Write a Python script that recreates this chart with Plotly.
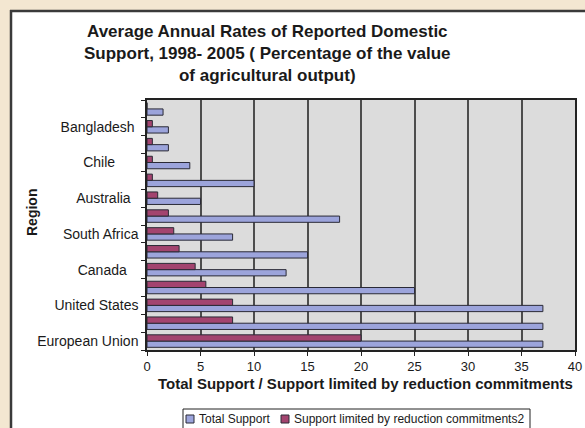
import plotly.graph_objects as go

# Categories from bottom to top (every other category label is hidden in the original)
regions = ["European Union", "cat13", "United States", "cat11", "Canada", "cat9",
           "South Africa", "cat7", "Australia", "cat5", "Chile", "cat3",
           "Bangladesh", "cat1"]
NB = "\u00a0"
tick_labels = ["European Union", "", "United States", "", "Canada" + NB * 3, "",
               "South Africa", "", "Australia" + NB * 2, "", "Chile" + NB * 6, "",
               "Bangladesh" + NB, ""]
total_support = [37, 37, 37, 25, 13, 15, 8, 18, 5, 10, 4, 2, 2, 1.5]
limited_support = [20, 8, 8, 5.5, 4.5, 3, 2.5, 2, 1, 0.5, 0.5, 0.5, 0.5, 0]
x_ticks = [0, 5, 10, 15, 20, 25, 30, 35, 40]
series_names = ["Total Support", "Support limited by reduction commitments2"]
series_colors = ["#9ca4db", "#a3446f"]

W, H = 585, 428
L, R, T, B = 147, 10, 100, 78
PW, PH = W - L - R, H - T - B


def px(x):
    return (x - L) / PW


def py(y):
    return (H - B - y) / PH


FONT = "Liberation Sans, Arial, sans-serif"
TXT = "#1a1a1a"
OUTLINE = "#2a2a36"

fig = go.Figure()
for name, vals, col in zip(series_names, [total_support, limited_support], series_colors):
    fig.add_trace(go.Bar(
        y=regions, x=vals, orientation="h", name=name,
        marker=dict(color=col, line=dict(color=OUTLINE, width=1)),
    ))

beige = "#f3e7d1"
border = "#3a3a3a"
shapes = [
    dict(type="rect", xref="paper", yref="paper", x0=px(-5), x1=px(10), y0=py(440), y1=py(-5),
         fillcolor=beige, line=dict(width=0), layer="below"),
    dict(type="rect", xref="paper", yref="paper", x0=px(-5), x1=px(600), y0=py(11), y1=py(-5),
         fillcolor=beige, line=dict(width=0), layer="below"),
    dict(type="line", xref="paper", yref="paper", x0=px(11), x1=px(11), y0=py(10), y1=py(440),
         line=dict(color=border, width=2.5)),
    dict(type="line", xref="paper", yref="paper", x0=px(10), x1=px(600), y0=py(11), y1=py(11),
         line=dict(color=border, width=2.5)),
    # legend box
    dict(type="rect", xref="paper", yref="paper", x0=px(183), x1=px(530), y0=py(409), y1=py(432),
         fillcolor="white", line=dict(color="#222", width=1)),
]

annotations = [
    dict(text="<b>Average Annual Rates of Reported Domestic</b><br>"
              "<b>Support, 1998- 2005 ( Percentage of the value</b><br>"
              "<b>of agricultural output)</b>",
         xref="paper", yref="paper", x=px(267), y=py(53), xanchor="center", yanchor="middle",
         showarrow=False, font=dict(family=FONT, size=17, color=TXT), align="center"),
    dict(text="<b>Total Support / Support limited by reduction commitments</b>",
         xref="paper", yref="paper", x=px(365), y=py(383), xanchor="center", yanchor="middle",
         showarrow=False, font=dict(family=FONT, size=15, color=TXT)),
    dict(text="<b>Region</b>", textangle=-90,
         xref="paper", yref="paper", x=px(32), y=py(213), xanchor="center", yanchor="middle",
         showarrow=False, font=dict(family=FONT, size=14, color=TXT)),
]

# manual compact legend (Excel style)
legend_x = [186, 281]
for lx, name, col in zip(legend_x, series_names, series_colors):
    shapes.append(dict(type="rect", xref="paper", yref="paper",
                       x0=px(lx), x1=px(lx + 8), y0=py(423), y1=py(415),
                       fillcolor=col, line=dict(color=OUTLINE, width=1)))
    annotations.append(dict(text=name, xref="paper", yref="paper",
                            x=px(lx + 11), y=py(419), xanchor="left", yanchor="middle",
                            showarrow=False, font=dict(family=FONT, size=12, color=TXT)))

fig.update_layout(
    width=W, height=H,
    margin=dict(l=L, r=R, t=T, b=B, pad=0),
    paper_bgcolor="white",
    plot_bgcolor="#dcdcdc",
    barmode="group",
    bargap=0.3,
    bargroupgap=0,
    font=dict(family=FONT, color=TXT),
    showlegend=False,
    shapes=shapes,
    annotations=annotations,
    xaxis=dict(
        range=[0, 40], tickmode="array", tickvals=x_ticks,
        ticks="outside", ticklen=4, tickcolor="#222", tickwidth=1,
        showgrid=True, gridcolor="#4d4d4d", gridwidth=1.5,
        showline=True, linecolor="#222", linewidth=1.5, mirror=True,
        zeroline=False, automargin=False,
        tickfont=dict(family=FONT, size=13, color=TXT),
    ),
    yaxis=dict(
        type="category", categoryorder="array", categoryarray=regions,
        tickmode="array", tickvals=regions, ticktext=tick_labels,
        tickson="boundaries", ticks="outside", ticklen=4, tickcolor="#222",
        showgrid=False, showline=True, linecolor="#222", linewidth=1.5, mirror=True,
        automargin=False, ticklabelstandoff=4,
        tickfont=dict(family=FONT, size=14, color=TXT),
    ),
)

fig.write_html("out.html")
